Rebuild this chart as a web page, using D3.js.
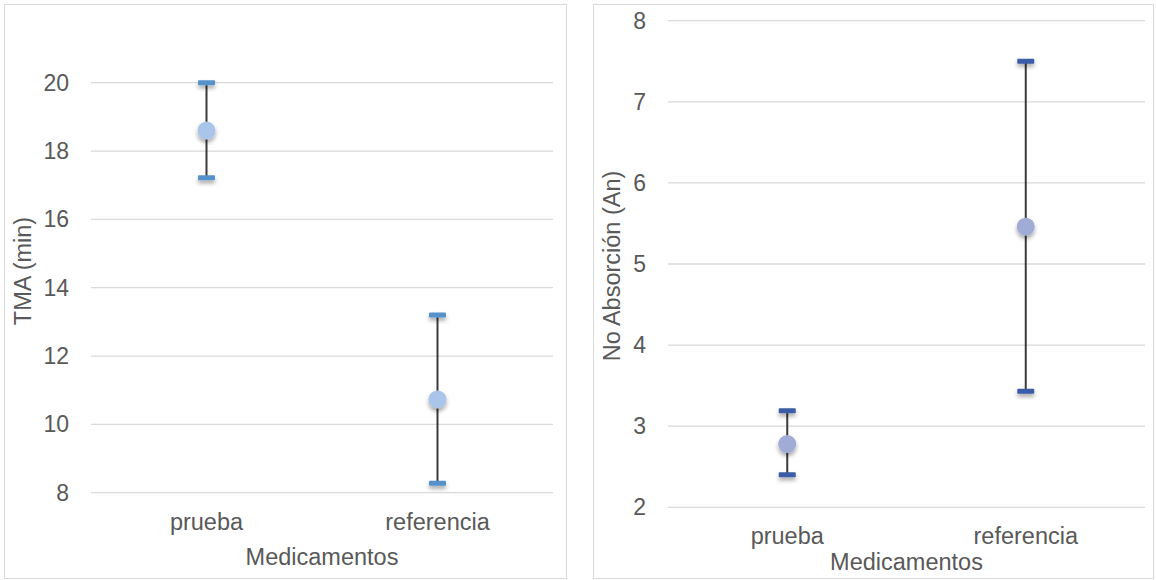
<!DOCTYPE html>
<html>
<head>
<meta charset="utf-8">
<script src="https://cdn.jsdelivr.net/npm/d3@7"></script>
<style>
    body { margin: 0; background: #fff; }
    svg text { font-family: "Liberation Sans", Arial, sans-serif; fill: #595959; }
</style>
</head>
<body>
<div id="chart"></div>
<script>
const categories = ["prueba", "referencia"];

// left panel: TMA (min)
const tmaMean = [18.6, 10.73];
const tmaUpper = [20.0, 13.2];
const tmaLower = [17.22, 8.28];
const tmaTicks = [8, 10, 12, 14, 16, 18, 20];

// right panel: No Absorción (An)
const absMean = [2.78, 5.46];
const absUpper = [3.19, 7.5];
const absLower = [2.4, 3.43];
const absTicks = [2, 3, 4, 5, 6, 7, 8];

const svg = d3.select("#chart").append("svg")
    .attr("width", 1156)
    .attr("height", 580);

const defs = svg.append("defs");
defs.append("filter")
    .attr("id", "shadow")
    .attr("x", "-60%").attr("y", "-80%")
    .attr("width", "220%").attr("height", "300%")
    .append("feDropShadow")
    .attr("dx", 0).attr("dy", 3)
    .attr("stdDeviation", 2)
    .attr("flood-color", "#000")
    .attr("flood-opacity", 0.35);

function panel(opts) {
    const g = svg.append("g");

    g.append("rect")
        .attr("x", opts.box[0] + 0.5)
        .attr("y", opts.box[1] + 0.5)
        .attr("width", opts.box[2])
        .attr("height", opts.box[3])
        .attr("fill", "#fff")
        .attr("stroke", "#d9d9d9");

    const x = d3.scaleBand()
        .domain(categories)
        .range([opts.left, opts.right]);

    const y = d3.scaleLinear()
        .domain(opts.domain)
        .range([opts.bottom, opts.top]);

    // gridlines
    g.selectAll(".grid")
        .data(opts.ticks)
        .enter().append("line")
        .attr("x1", opts.left)
        .attr("x2", opts.right)
        .attr("y1", d => y(d))
        .attr("y2", d => y(d))
        .attr("stroke", "#d9d9d9")
        .attr("stroke-width", 1.3);

    // tick labels
    g.selectAll(".ytick")
        .data(opts.ticks)
        .enter().append("text")
        .attr("x", opts.left - 22)
        .attr("y", d => y(d))
        .attr("dy", "0.35em")
        .attr("text-anchor", "end")
        .style("font-size", "23px")
        .text(d => d);

    g.selectAll(".xtick")
        .data(categories)
        .enter().append("text")
        .attr("x", d => x(d) + x.bandwidth() / 2)
        .attr("y", opts.catY)
        .attr("text-anchor", "middle")
        .style("font-size", "23.5px")
        .text(d => d);

    g.append("text")
        .attr("x", (opts.left + opts.right) / 2)
        .attr("y", opts.titleY)
        .attr("text-anchor", "middle")
        .style("font-size", "23.5px")
        .text("Medicamentos");

    g.append("text")
        .attr("transform", `translate(${opts.ytitleX},${opts.ytitleY}) rotate(-90)`)
        .attr("text-anchor", "middle")
        .style("font-size", "23.5px")
        .text(opts.ytitle);

    const rows = categories.map((c, i) => ({
        cat: c, mean: opts.mean[i], hi: opts.upper[i], lo: opts.lower[i]
    }));

    const bar = g.selectAll(".bar")
        .data(rows)
        .enter().append("g")
        .attr("transform", d => `translate(${x(d.cat) + x.bandwidth() / 2},0)`);

    bar.append("line")
        .attr("y1", d => y(d.hi))
        .attr("y2", d => y(d.lo))
        .attr("stroke", "#3a3a3a")
        .attr("stroke-width", 2);

    bar.selectAll(".cap")
        .data(d => [d.hi, d.lo])
        .enter().append("rect")
        .attr("x", -8.5)
        .attr("y", d => y(d) - 2.5)
        .attr("width", 17)
        .attr("height", 5)
        .attr("rx", 1)
        .attr("fill", opts.capColor)
        .attr("filter", "url(#shadow)");

    bar.append("circle")
        .attr("cy", d => y(d.mean))
        .attr("r", 9)
        .attr("fill", opts.dotColor)
        .attr("filter", "url(#shadow)");
}

panel({
    box: [4, 4, 562, 574],
    left: 91, right: 553, top: 82.7, bottom: 492.7,
    domain: [8, 20], ticks: tmaTicks,
    mean: tmaMean, upper: tmaUpper, lower: tmaLower,
    catY: 530, titleY: 565,
    ytitle: "TMA (min)", ytitleX: 31, ytitleY: 271,
    capColor: "#5591cb", dotColor: "#a9c5ea"
});

panel({
    box: [593, 4, 560, 574],
    left: 668, right: 1145, top: 20.7, bottom: 507.3,
    domain: [2, 8], ticks: absTicks,
    mean: absMean, upper: absUpper, lower: absLower,
    catY: 544, titleY: 570,
    ytitle: "No Absorción (An)", ytitleX: 620, ytitleY: 266,
    capColor: "#3b5ba6", dotColor: "#a0acd6"
});
</script>
</body>
</html>
